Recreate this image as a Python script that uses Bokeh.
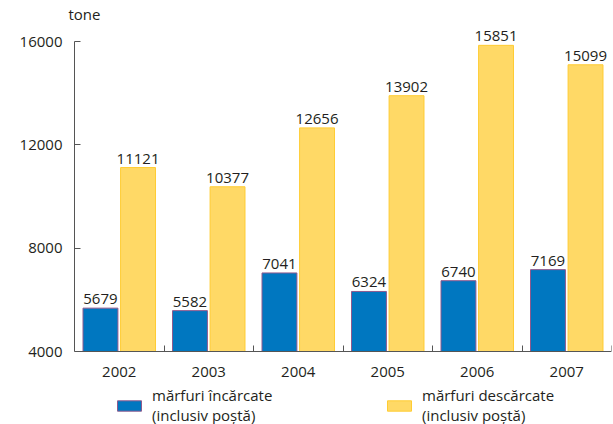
from bokeh.plotting import figure
from bokeh.models import (ColumnDataSource, FixedTicker, LabelSet, Legend,
                          LegendItem, Range1d, Title)
from bokeh.transform import dodge
from bokeh.embed import file_html
from bokeh.resources import INLINE
from bokeh.core.properties import value

years = ["2002", "2003", "2004", "2005", "2006", "2007"]
incarcate = [5679, 5582, 7041, 6324, 6740, 7169]
descarcate = [11121, 10377, 12656, 13902, 15851, 15099]
y_ticks = [4000, 8000, 12000, 16000]
series_labels = ["mărfuri încărcate\n(inclusiv poștă)", "mărfuri descărcate\n(inclusiv poștă)"]
unit_label = "tone"

FONT = "Open Sans"
BLUE = "#0077C0"
BLUE_LINE = "#8E5A8E"
YELLOW = "#FFD966"
YELLOW_LINE = "#FFCC33"
AXIS = "#555555"
TEXT = "#231F20"

W, H = 613, 424
TOP, LEFT, RIGHT = 24, 74, 611      # frame edges in pixels
Y16, Y4 = 41, 351                   # pixel rows of the first and last ticks
units_per_px = (y_ticks[-1] - y_ticks[0]) / (Y4 - Y16)
y_end = y_ticks[-1] + (Y16 - TOP) * units_per_px
y_start = y_ticks[0] - (H - Y4) * units_per_px

idx = list(range(len(years)))
src = ColumnDataSource(dict(
    idx=idx, years=years, inc=incarcate, desc=descarcate,
    inc_txt=[str(v) for v in incarcate], desc_txt=[str(v) for v in descarcate],
))

p = figure(width=W, height=H, output_backend="svg", toolbar_location=None,
           x_range=Range1d(-0.5, len(years) - 0.5), y_range=Range1d(y_start, y_end),
           min_border_left=LEFT, min_border_right=W - RIGHT, min_border_top=TOP,
           min_border_bottom=0)
p.outline_line_color = None
p.xgrid.visible = False
p.ygrid.visible = False
p.background_fill_color = "white"
p.border_fill_color = "white"

p.add_layout(Title(text=unit_label, align="left", offset=-6, standoff=2,
                   text_font=FONT, text_font_size="15px", text_font_style="normal",
                   text_color=TEXT), "above")

r1 = p.vbar(x=dodge("idx", -0.21, range=p.x_range), top="inc", bottom=y_ticks[0], width=0.39,
            source=src, fill_color=BLUE, line_color=BLUE_LINE, line_width=1)
r2 = p.vbar(x=dodge("idx", 0.21, range=p.x_range), top="desc", bottom=y_ticks[0], width=0.39,
            source=src, fill_color=YELLOW, line_color=YELLOW_LINE, line_width=1)

for col, txt, off in (("inc", "inc_txt", -0.21), ("desc", "desc_txt", 0.21)):
    p.add_layout(LabelSet(x=dodge("idx", off, range=p.x_range), y=col, text=txt, source=src,
                          y_offset=4, text_align="center", text_baseline="bottom",
                          text_font=value(FONT), text_font_size="15px", text_color=TEXT))

# x axis: drawn at y = 4000, labels at centers, ticks at category boundaries
p.xaxis.fixed_location = y_ticks[0]
p.xaxis.ticker = FixedTicker(ticks=idx, minor_ticks=[i + 0.5 for i in idx])
p.xaxis.major_label_overrides = {i: y for i, y in zip(idx, years)}
p.xaxis.major_tick_in = 0
p.xaxis.major_tick_out = 0
p.xaxis.minor_tick_in = 6
p.xaxis.minor_tick_out = 0
p.xaxis.major_label_standoff = 15
p.xaxis.axis_line_color = AXIS
p.xaxis.minor_tick_line_color = AXIS
p.xaxis.major_label_text_font = FONT
p.xaxis.major_label_text_font_size = "15px"
p.xaxis.major_label_text_color = TEXT

p.yaxis.ticker = FixedTicker(ticks=y_ticks, minor_ticks=[])
p.yaxis.bounds = (y_ticks[0], y_ticks[-1])
p.yaxis.major_tick_in = 6
p.yaxis.major_tick_out = 0
p.yaxis.major_label_standoff = 12
p.yaxis.axis_line_color = AXIS
p.yaxis.major_tick_line_color = AXIS
p.yaxis.major_label_text_font = FONT
p.yaxis.major_label_text_font_size = "15px"
p.yaxis.major_label_text_color = TEXT

legend = Legend(items=[LegendItem(label=series_labels[0], renderers=[r1]),
                       LegendItem(label=series_labels[1], renderers=[r2])],
                orientation="horizontal", location=(40, -1), padding=0, margin=0,
                spacing=0, label_width=232, glyph_width=30, glyph_height=13,
                label_standoff=8, border_line_color=None, background_fill_alpha=0,
                label_text_font=FONT, label_text_font_size="15px", label_text_color=TEXT,
                label_height=18)
p.add_layout(legend, "center")

open("out.html", "w").write(file_html(p, INLINE))
